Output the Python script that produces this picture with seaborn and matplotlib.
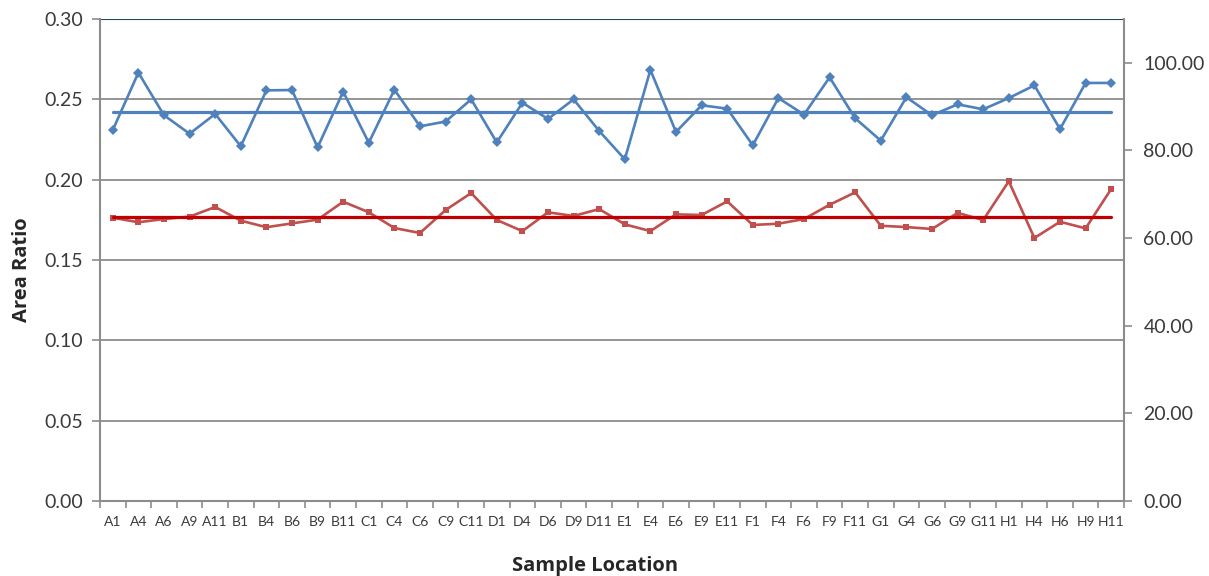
import numpy as np
import pandas as pd
import matplotlib
matplotlib.use("Agg")
import matplotlib.pyplot as plt
import seaborn as sns
from matplotlib.ticker import FixedLocator, FormatStrFormatter

# sample wells
locations = ["A1", "A4", "A6", "A9", "A11", "B1", "B4", "B6", "B9", "B11",
             "C1", "C4", "C6", "C9", "C11", "D1", "D4", "D6", "D9", "D11",
             "E1", "E4", "E6", "E9", "E11", "F1", "F4", "F6", "F9", "F11",
             "G1", "G4", "G6", "G9", "G11", "H1", "H4", "H6", "H9", "H11"]

# upper series (blue, diamonds)
blue_ratio = [0.2309, 0.2666, 0.2401, 0.2286, 0.2409, 0.2208, 0.2556, 0.2558, 0.2201, 0.2548,
              0.2230, 0.2560, 0.2332, 0.2362, 0.2500, 0.2232, 0.2479, 0.2378, 0.2500, 0.2303,
              0.2127, 0.2683, 0.2297, 0.2463, 0.2442, 0.2214, 0.2508, 0.2405, 0.2637, 0.2382,
              0.2243, 0.2513, 0.2401, 0.2469, 0.2438, 0.2508, 0.2587, 0.2315, 0.2602, 0.2602]

# lower series (red, squares)
red_ratio = [0.1763, 0.1735, 0.1755, 0.1770, 0.1830, 0.1745, 0.1704, 0.1728, 0.1751, 0.1863,
             0.1797, 0.1699, 0.1668, 0.1811, 0.1917, 0.1749, 0.1680, 0.1797, 0.1774, 0.1817,
             0.1722, 0.1680, 0.1784, 0.1780, 0.1865, 0.1718, 0.1726, 0.1755, 0.1844, 0.1921,
             0.1713, 0.1705, 0.1693, 0.1793, 0.1749, 0.1990, 0.1637, 0.1738, 0.1697, 0.1942]

left_ticks = [0.00, 0.05, 0.10, 0.15, 0.20, 0.25, 0.30]
right_ticks = [0, 20, 40, 60, 80, 100]

df = pd.DataFrame({"loc": locations, "blue": blue_ratio, "red": red_ratio})
df["blue_mean"] = np.mean(blue_ratio)
df["red_mean"] = np.mean(red_ratio)

sns.set_style("white")
plt.rcParams["font.family"] = ["Lato", "DejaVu Sans"]

fig = plt.figure(figsize=(12.09, 5.76), dpi=100)
ax = fig.add_axes([0.0827, 0.1302, 0.8470, 0.8368])

BLUE = "#4F81BD"
RED = "#C0504D"
GRID = "#8C8C8C"
TXT = "#3A3A3A"

# gridlines
for t in left_ticks[1:-1]:
    ax.axhline(t, color=GRID, lw=1.3, zorder=0)
ax.axhline(0.30, color="#1F4B58", lw=1.5, zorder=0)

sns.lineplot(data=df, x="loc", y="blue", ax=ax, color=BLUE, lw=1.9,
             marker="D", markersize=5.5, markeredgewidth=0, sort=False)
sns.lineplot(data=df, x="loc", y="blue_mean", ax=ax, color=BLUE, lw=2.3, sort=False)
sns.lineplot(data=df, x="loc", y="red", ax=ax, color=RED, lw=1.9,
             marker="s", markersize=5, markeredgewidth=0, sort=False)
sns.lineplot(data=df, x="loc", y="red_mean", ax=ax, color="#C00000", lw=2.3, sort=False)

ax.set_xlim(-0.5, len(locations) - 0.5)
ax.set_ylim(0, 0.30)
ax.set_yticks(left_ticks)
ax.yaxis.set_major_formatter(FormatStrFormatter("%.2f"))

# category labels centered, tick marks on boundaries
ax.set_xticks(range(len(locations)))
ax.set_xticklabels(locations, fontsize=10, color=TXT)
ax.xaxis.set_minor_locator(FixedLocator(np.arange(-0.5, len(locations), 1)))
ax.tick_params(axis="x", which="major", length=0, pad=11)
ax.tick_params(axis="x", which="minor", length=5, width=1.2, color=GRID, direction="out")
ax.tick_params(axis="y", length=6, width=1.2, color=GRID, direction="out",
               labelsize=14, labelcolor=TXT, pad=6)
ax.xaxis.set_tick_params(which="minor", bottom=True)

ax.set_xlabel("Sample Location", fontsize=14.5, fontweight="bold",
              family=["Open Sans", "DejaVu Sans"])
ax.set_ylabel("Area Ratio", fontsize=14.5, fontweight="bold",
              family=["Open Sans", "DejaVu Sans"])
ax.xaxis.set_label_coords(0.483, -0.115)
ax.yaxis.set_label_coords(-0.066, 0.479)

for side in ["left", "bottom"]:
    ax.spines[side].set_color(GRID)
    ax.spines[side].set_linewidth(1.5)
ax.spines["top"].set_visible(False)
ax.spines["right"].set_visible(False)

# secondary scale on the right
ax2 = ax.twinx()
ax2.set_ylim(0, 110)
ax2.set_yticks(right_ticks)
ax2.yaxis.set_major_formatter(FormatStrFormatter("%.2f"))
ax2.tick_params(axis="y", length=6, width=1.2, color=GRID, direction="out",
                labelsize=14, labelcolor=TXT, pad=8)
for side in ["left", "bottom", "top"]:
    ax2.spines[side].set_visible(False)
ax2.spines["right"].set_color(GRID)
ax2.spines["right"].set_linewidth(1.5)

plt.savefig("out.png", dpi=100)
